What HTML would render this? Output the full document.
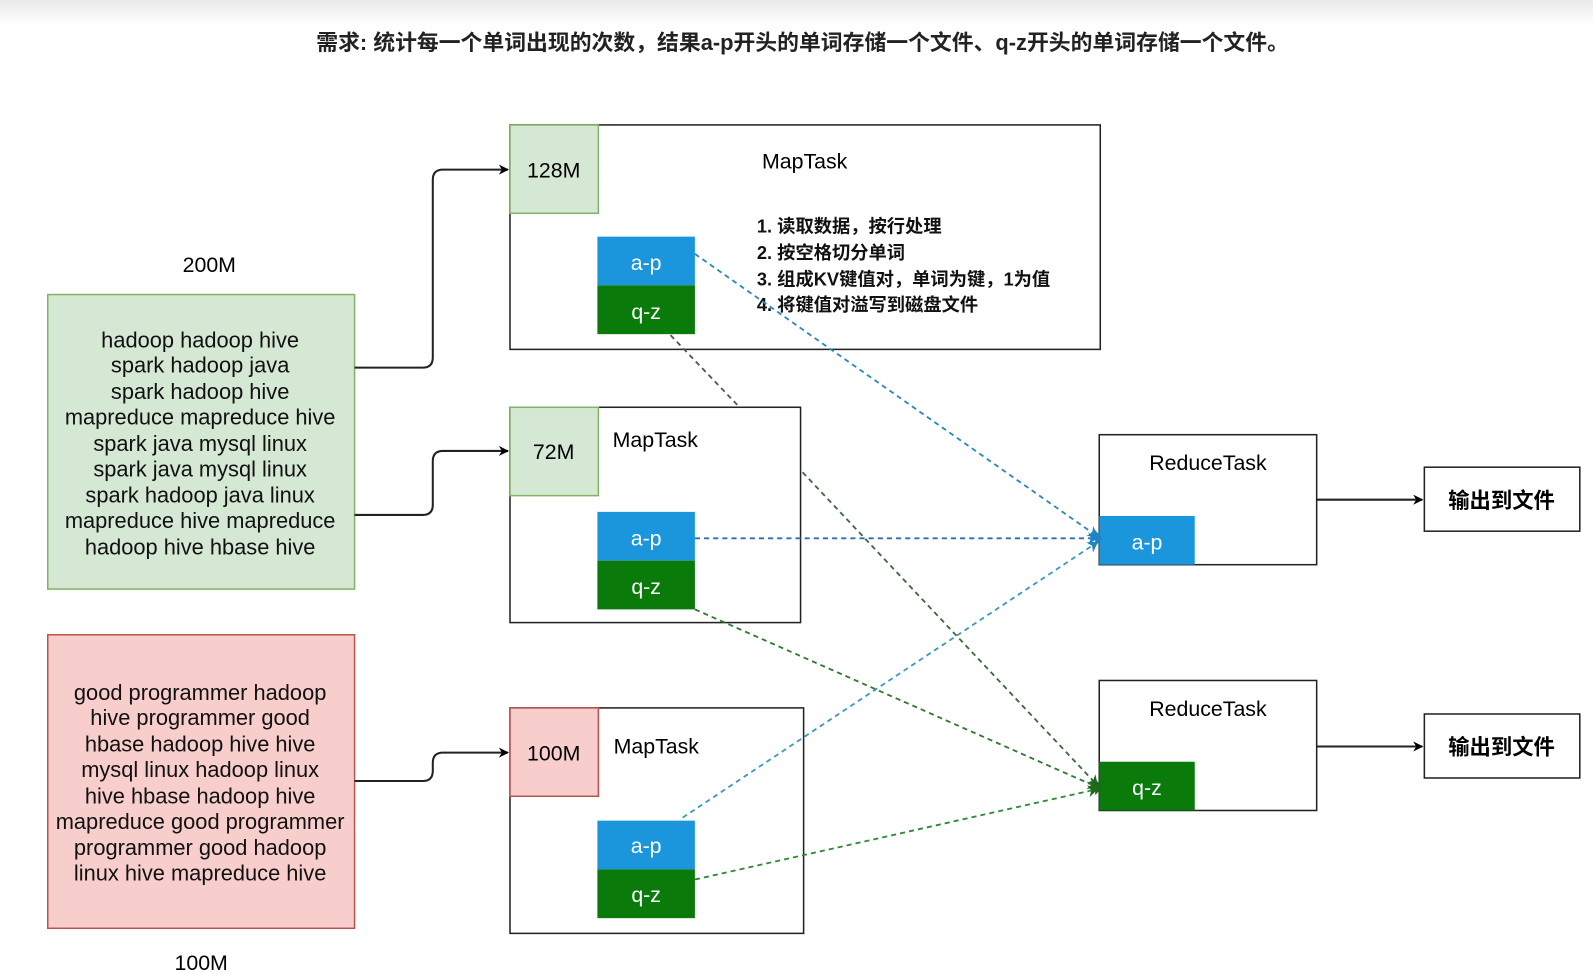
<!DOCTYPE html>
<html><head><meta charset="utf-8"><style>
html,body{margin:0;padding:0;background:#fff;}
svg{display:block;}
text{font-family:"Liberation Sans","Noto Sans CJK SC",sans-serif;}
</style></head><body>
<svg width="1593" height="974" viewBox="0 0 1568 959" preserveAspectRatio="none" xmlns="http://www.w3.org/2000/svg">
<defs>
<linearGradient id="top" x1="0" y1="0" x2="0" y2="1"><stop offset="0" stop-color="#e9e9e9"/><stop offset="1" stop-color="#ffffff"/></linearGradient>
<marker id="ab" markerWidth="10" markerHeight="10" refX="9" refY="5" orient="auto" markerUnits="userSpaceOnUse"><path d="M0,0 L10,5 L0,10 L3,5 z" fill="#000"/></marker>
<marker id="abl" markerWidth="10" markerHeight="12" refX="9" refY="6" orient="auto" markerUnits="userSpaceOnUse"><path d="M0,0 L10,6 L0,12 L3,6 z" fill="#1b85c6"/></marker>
<marker id="agr" markerWidth="10" markerHeight="12" refX="9" refY="6" orient="auto" markerUnits="userSpaceOnUse"><path d="M0,0 L10,6 L0,12 L3,6 z" fill="#1d6a1d"/></marker>
</defs>
<rect x="0" y="0" width="1568" height="25" fill="url(#top)"/>
<text x="790" y="49" font-size="21.5" font-weight="bold" text-anchor="middle" fill="#222">需求: 统计每一个单词出现的次数，结果a-p开头的单词存储一个文件、q-z开头的单词存储一个文件。</text>

<text x="206" y="268" font-size="21" text-anchor="middle">200M</text>
<rect x="47" y="290" width="302" height="290" fill="#d5e8d4" stroke="#82b366" stroke-width="1.5"/>
<g font-size="21.5" text-anchor="middle" fill="#111">
<text x="197" y="342">hadoop  hadoop hive</text>
<text x="197" y="367">spark hadoop java</text>
<text x="197" y="393">spark hadoop hive</text>
<text x="197" y="418">mapreduce mapreduce hive</text>
<text x="197" y="444">spark java mysql linux</text>
<text x="197" y="469">spark java mysql linux</text>
<text x="197" y="495">spark hadoop java linux</text>
<text x="197" y="520">mapreduce hive mapreduce</text>
<text x="197" y="546">hadoop hive hbase hive</text>
</g>
<rect x="47" y="625" width="302" height="289" fill="#f8cecc" stroke="#b85450" stroke-width="1.5"/>
<g font-size="21.5" text-anchor="middle" fill="#111">
<text x="197" y="689">good programmer hadoop</text>
<text x="197" y="714">hive programmer good</text>
<text x="197" y="740">hbase hadoop hive hive</text>
<text x="197" y="765">mysql linux hadoop linux</text>
<text x="197" y="791">hive hbase hadoop hive</text>
<text x="197" y="816">mapreduce good programmer</text>
<text x="197" y="842">programmer good hadoop</text>
<text x="197" y="867">linux hive mapreduce hive</text>
</g>
<text x="198" y="955" font-size="21" text-anchor="middle">100M</text>

<g fill="none" stroke="#222" stroke-width="2">
<path d="M349,362 H416 Q426,362 426,352 V177 Q426,167 436,167 H500" marker-end="url(#ab)"/>
<path d="M349,507 H416 Q426,507 426,497 V454 Q426,444 436,444 H500" marker-end="url(#ab)"/>
<path d="M349,769 H416 Q426,769 426,759 V751 Q426,741 436,741 H500" marker-end="url(#ab)"/>
</g>

<!-- Map1 -->
<rect x="502" y="123" width="581" height="221" fill="#fff" stroke="#222" stroke-width="1.5"/>
<rect x="502" y="123" width="87" height="87" fill="#d5e8d4" stroke="#82b366" stroke-width="1.5"/>
<text x="545" y="175" font-size="21" text-anchor="middle">128M</text>
<text x="792" y="166" font-size="21" text-anchor="middle">MapTask</text>
<g font-size="18" fill="#111" font-weight="bold">
<text x="745" y="229">1. 读取数据，按行处理</text>
<text x="745" y="255">2. 按空格切分单词</text>
<text x="745" y="281">3. 组成KV键值对，单词为键，1为值</text>
<text x="745" y="306">4. 将键值对溢写到磁盘文件</text>
</g>

<!-- Map2 -->
<rect x="502" y="401" width="286" height="212" fill="#fff" stroke="#222" stroke-width="1.5"/>
<rect x="502" y="401" width="87" height="87" fill="#d5e8d4" stroke="#82b366" stroke-width="1.5"/>
<text x="545" y="452" font-size="21" text-anchor="middle">72M</text>
<text x="645" y="440" font-size="21" text-anchor="middle">MapTask</text>

<!-- Map3 -->
<rect x="502" y="697" width="289" height="222" fill="#fff" stroke="#222" stroke-width="1.5"/>
<rect x="502" y="697" width="87" height="87" fill="#f8cecc" stroke="#b85450" stroke-width="1.5"/>
<text x="545" y="749" font-size="21" text-anchor="middle">100M</text>
<text x="646" y="742" font-size="21" text-anchor="middle">MapTask</text>

<!-- dashed lines -->
<g fill="none" stroke-width="1.8" stroke-dasharray="5,4">
<path d="M684,250 L1080,528" stroke="#2a88b8" marker-end="url(#abl)"/>
<path d="M684,530 L1080,530" stroke="#2a6fb8" marker-end="url(#abl)"/>
<path d="M672,805 L1080,534" stroke="#3c9ac0" marker-end="url(#abl)"/>
<path d="M660,330 L728,401" stroke="#555"/>
<path d="M790,465 L1080,773" stroke="#3b6a3b" marker-end="url(#agr)"/>
<path d="M684,600 L1080,775" stroke="#2f7a2f" marker-end="url(#agr)"/>
<path d="M684,866 L1080,777" stroke="#2f8a2f" marker-end="url(#agr)"/>
</g>

<rect x="588" y="233" width="96" height="48" fill="#1b96dc"/>
<rect x="588" y="281" width="96" height="48" fill="#0a7a0a"/>
<text x="636" y="266" font-size="21" fill="#fff" text-anchor="middle">a-p</text>
<text x="636" y="314" font-size="21" fill="#fff" text-anchor="middle">q-z</text>
<rect x="588" y="504" width="96" height="48" fill="#1b96dc"/>
<rect x="588" y="552" width="96" height="48" fill="#0a7a0a"/>
<text x="636" y="537" font-size="21" fill="#fff" text-anchor="middle">a-p</text>
<text x="636" y="585" font-size="21" fill="#fff" text-anchor="middle">q-z</text>
<rect x="588" y="808" width="96" height="48" fill="#1b96dc"/>
<rect x="588" y="856" width="96" height="48" fill="#0a7a0a"/>
<text x="636" y="840" font-size="21" fill="#fff" text-anchor="middle">a-p</text>
<text x="636" y="888" font-size="21" fill="#fff" text-anchor="middle">q-z</text>

<!-- Reduce -->
<rect x="1082" y="428" width="214" height="128" fill="#fff" stroke="#222" stroke-width="1.5"/>
<text x="1189" y="463" font-size="21" text-anchor="middle">ReduceTask</text>
<rect x="1082" y="508" width="94" height="48" fill="#1b96dc"/>
<text x="1129" y="541" font-size="21" fill="#fff" text-anchor="middle">a-p</text>
<rect x="1082" y="670" width="214" height="128" fill="#fff" stroke="#222" stroke-width="1.5"/>
<text x="1189" y="705" font-size="21" text-anchor="middle">ReduceTask</text>
<rect x="1082" y="750" width="94" height="48" fill="#0a7a0a"/>
<text x="1129" y="783" font-size="21" fill="#fff" text-anchor="middle">q-z</text>
<path d="M1078,522 L1085,530 L1078,538 z" fill="#1b85c6"/>
<path d="M1078,767 L1085,775 L1078,783 z" fill="#1d6a1d"/>

<g stroke="#222" stroke-width="2">
<line x1="1296" y1="492" x2="1400" y2="492" marker-end="url(#ab)"/>
<line x1="1296" y1="735" x2="1400" y2="735" marker-end="url(#ab)"/>
</g>
<rect x="1402" y="460" width="153" height="63" fill="#fff" stroke="#222" stroke-width="1.5"/>
<text x="1478" y="500" font-size="21" font-weight="bold" text-anchor="middle">输出到文件</text>
<rect x="1402" y="703" width="153" height="63" fill="#fff" stroke="#222" stroke-width="1.5"/>
<text x="1478" y="743" font-size="21" font-weight="bold" text-anchor="middle">输出到文件</text>
</svg>
</body></html>
